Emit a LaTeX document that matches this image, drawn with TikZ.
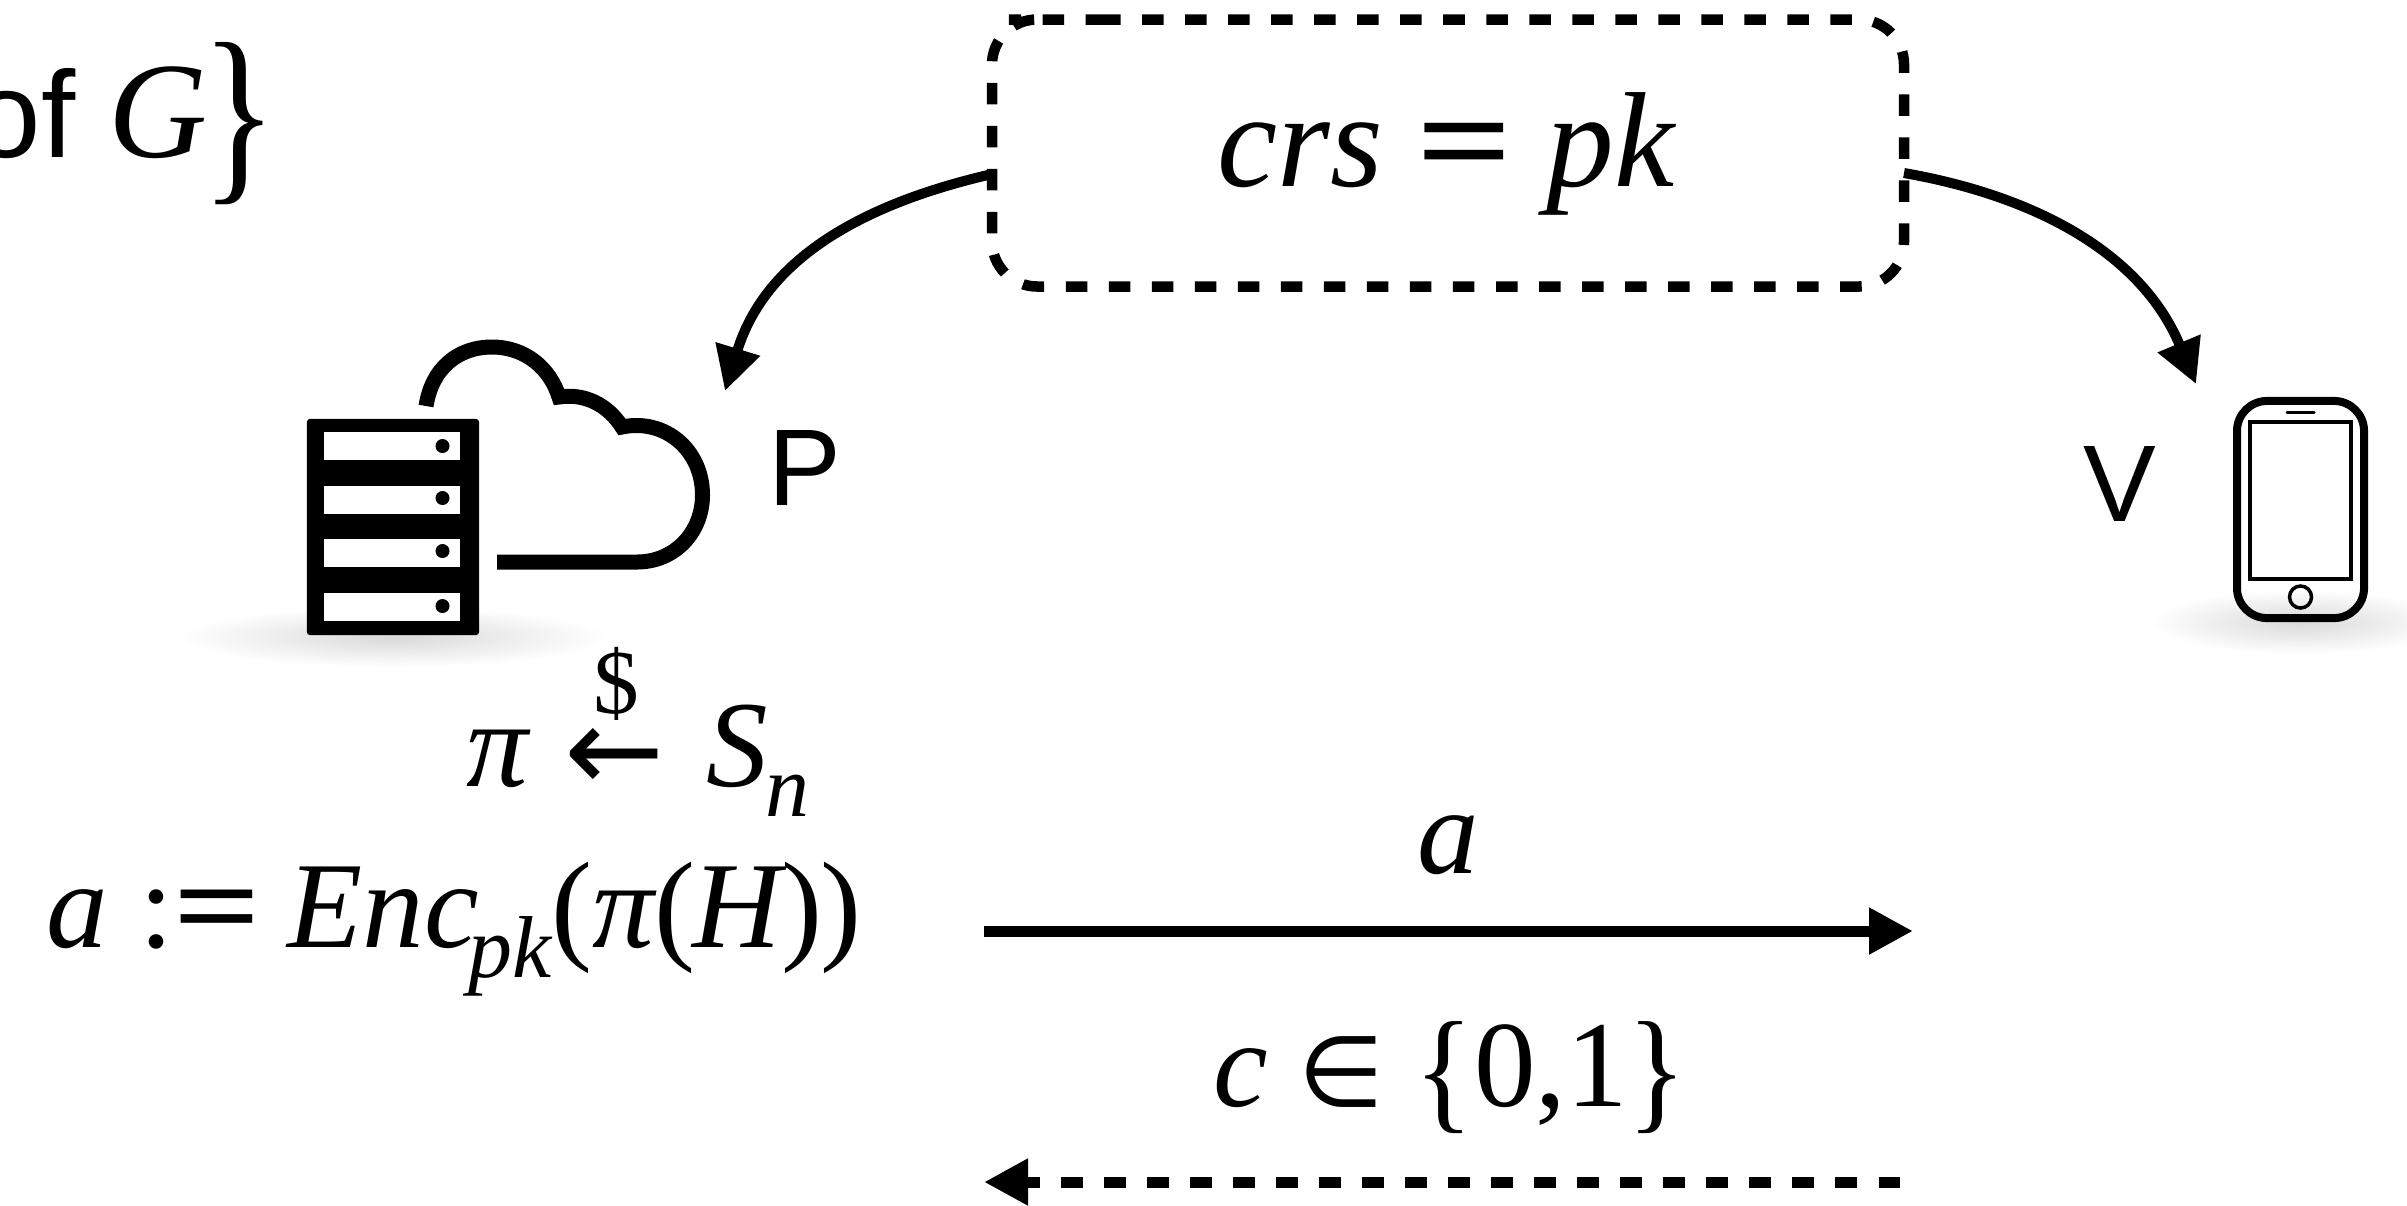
\documentclass[tikz,border=0pt]{standalone}
\usepackage{fontspec}
\setmainfont{Liberation Serif}
\setsansfont{Liberation Sans}
\newfontfamily\symbfont{DejaVu Sans}
\usepackage{graphicx}
\usetikzlibrary{positioning, arrows.meta, calc}
\tikzset{
  flowline/.style={line width=0.11cm, -{Triangle[length=0.44cm, width=0.44cm]}},
  bendline/.style={flowline, line width=0.1cm},
  dashline/.style={flowline, dash pattern=on 0.215cm off 0.215cm},
  bigtext/.style={font=\fontsize{35}{40}\selectfont, inner sep=0pt, anchor=base},
  partytext/.style={font=\sffamily\fontsize{31}{36}\selectfont, inner sep=0pt, anchor=base},
  rackslot/.style={fill=white, draw=none},
  floorshade/.style={inner color=black!15, outer color=white, draw=none},
}
\newcommand{\subtext}[1]{\raisebox{-0.3cm}{\fontsize{25}{28}\selectfont #1}}
\newcommand{\plainbrace}[1]{\raisebox{-0.09cm}{\upshape\scalebox{1}[1.1]{#1}}}
\newcommand{\wideeq}{\scalebox{1.25}[1]{\textbf{\upshape =}}}
\begin{document}
\begin{tikzpicture}[x=0.01cm, y=-0.01cm, >=Stealth]
  \useasboundingbox (0,0) rectangle (2407,1205);
  \clip (0,0) rectangle (2407,1205);
  % Floor shadows
  \shade[floorshade] (393,637) ellipse (215 and 30);
  \shade[floorshade] (2300,622) ellipse (150 and 32);
  % Shared string box
  \draw[line width=0.105cm, rounded corners=0.45cm, dash pattern=on 0.215cm off 0.215cm]
    (1054,19.5) -- (1904,19.5) -- (1904,286.5) -- (992,286.5) -- (992,19.5) -- cycle;
  \node[bigtext, font=\fontsize{38.5}{44}\selectfont] (crslabel) at (1446,186)
    {\itshape crs \wideeq{} pk};
  % Server rack
  \node[fill=black, rounded corners=0.03cm, minimum width=1.72cm, minimum height=2.16cm,
        inner sep=0pt] (rack) at (393,527) {};
  \foreach \y/\d in {446/446, 499.5/498, 552.5/551, 607/606} {
    \fill[rackslot] (324,\y-14) rectangle (460,\y+14);
    \fill (442.5,\d) ellipse (7 and 7);
  }
  % Cloud
  \draw[line width=0.15cm] (426,406) .. controls (432,368) and (458,347) .. (492,347)
    .. controls (525,347) and (550,368) .. (559,397)
    .. controls (585,393) and (608,405) .. (622,427)
    .. controls (665,418) and (702.5,450) .. (702.5,495)
    .. controls (702.5,532) and (675,562) .. (637,562) -- (497,562);
  \node[partytext] (prover) at (805,505) {P};
  \node[partytext] (verifier) at (2120,521) {V};
  % Phone
  \node[draw, line width=0.08cm, rounded corners=0.3cm, minimum width=1.27cm, minimum height=2.17cm,
        inner sep=0pt] (phone) at (2300.5,509.5) {};
  \node[draw, line width=0.04cm, minimum width=1.01cm, minimum height=1.57cm,
        inner sep=0pt] (screen) at (2300.5,500.5) {};
  \node[draw, circle, line width=0.035cm, minimum size=0.22cm, inner sep=0pt] (homekey) at (2300.5,597) {};
  \draw[line width=0.03cm, line cap=round] (2287,412) -- (2314,412);
  % Curved arrows down from the box
  \coordinate (lstart) at (988,175);
  \coordinate (ltip) at (725,391);
  \coordinate (rstart) at (1904,173);
  \coordinate (rtip) at (2196,384);
  \draw[bendline] (lstart) .. controls (860,205) and (765,260) .. (ltip);
  \draw[bendline] (rstart) .. controls (2030,195) and (2140,250) .. (rtip);
  % Left text
  \node[partytext, font=\sffamily\fontsize{35}{40}\selectfont, anchor=base east] (ofword) at (76,157) {of};
  \node[bigtext, anchor=base west, font=\fontsize{39}{44}\selectfont] (gset) at (108,157)
    {\itshape G\hspace{-0.06cm}\raisebox{-0.21cm}{\upshape\scalebox{1.15}[1.43]{\}}}};
  % Prover text
  \node[bigtext, anchor=base west] (perm) at (466,786)
    {\itshape π\hspace{0.36cm}\raisebox{-0.05cm}{\symbfont\fontsize{34}{36}\selectfont ←}\hspace{0.42cm}S\hspace{-0.03cm}\subtext{n}};
  \node[bigtext, font=\fontsize{26}{30}\selectfont] (dollar) at (616,713) {\$};
  \node[bigtext, anchor=base west] (enc) at (46,947)
    {\itshape a \upshape :\wideeq\itshape\hspace{-0.04cm}\ Enc\hspace{-0.1cm}\subtext{pk}\upshape(\itshape π\upshape(\hspace{-0.03cm}\itshape H\upshape)\hspace{-0.02cm})};
  % Messages
  \coordinate (astart) at (984,931);
  \coordinate (aend) at (1913,931);
  \coordinate (cstart) at (1900,1182);
  \coordinate (cend) at (984,1182);
  \draw[flowline] (astart) -- (aend);
  \node[bigtext] (amsg) at (1448,873) {\itshape a};
  \node[bigtext] (cmsg) at (1450,1106)
    {\itshape c \symbfont\fontsize{28}{36}\selectfont ∈\fontsize{35}{40}\selectfont\rmfamily\upshape\ \plainbrace{\{}0,1\plainbrace{\}}};
  \draw[dashline] (cstart) -- (cend);
\end{tikzpicture}
\end{document}
